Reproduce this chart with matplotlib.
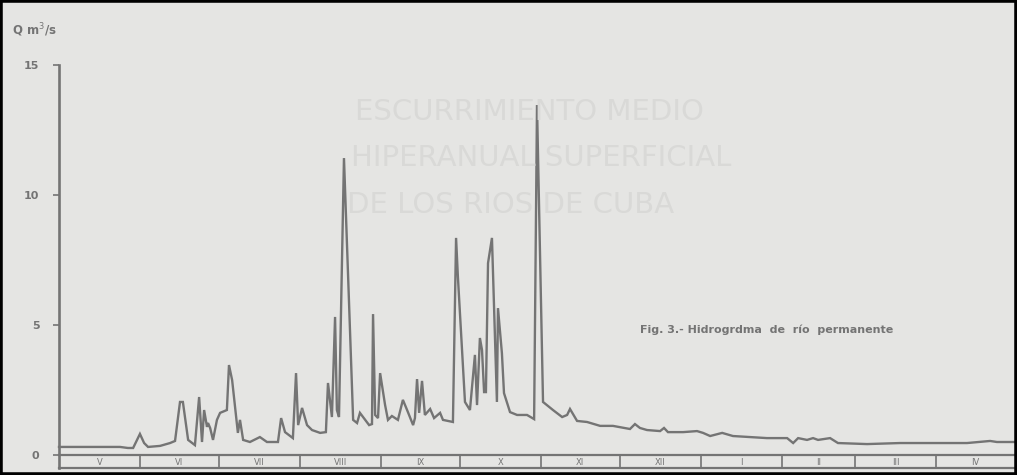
import matplotlib
matplotlib.use("Agg")
import matplotlib.pyplot as plt
from matplotlib.patches import Rectangle
from matplotlib import font_manager

# Days since 1 May (hydrological year May-April)
day = [0, 23.3, 26.3, 28.3, 29.8, 30.9, 32.5, 34.0, 38.6, 42.4, 44.3, 46.2, 47.3,
       49.3, 51.9, 53.5, 54.6, 55.4, 56.5, 56.9, 57.7, 58.8, 60.3, 61.5, 64.1,
       64.9, 66.1, 68.3, 69.1, 70.3, 72.9, 76.7, 79.4, 83.6, 84.8, 86.3, 89.3,
       90.5, 91.3, 92.8, 94.7, 96.6, 99.7, 101.9, 102.7, 104.2, 105.4, 106.1,
       106.9, 108.8, 112.3, 113.8, 114.9, 118.4, 119.5, 119.9, 120.7, 121.8,
       122.6, 124.5, 125.6, 127.1, 129.4, 131.3, 132.9, 135.2, 135.9, 136.7,
       137.5, 138.6, 139.7, 141.7, 143.2, 145.5, 146.6, 150.4, 151.6, 152.3,
       155.0, 156.9, 158.8, 159.6, 160.7, 161.5, 162.3, 163.0, 163.8, 165.3,
       167.2, 167.6, 169.1, 169.9, 172.2, 174.9, 178.7, 181.4, 182.5, 184.8,
       188.6, 192.1, 194.0, 195.1, 197.8, 201.6, 206.6, 211.5, 218.0, 219.9,
       221.8, 224.5, 229.5, 231.0, 232.5, 238.3, 243.6, 245.9, 248.6, 253.2,
       257.3, 263.8, 270.3, 278.0, 280.3, 282.2, 285.6, 287.9, 289.8, 294.4,
       297.4, 308.5, 321.1, 333.7, 346.7, 355.5, 358.1, 365.0]
q = [0.31, 0.31, 0.27, 0.27, 0.58, 0.81, 0.46, 0.31, 0.35, 0.46, 0.54, 2.04, 2.04,
     0.58, 0.38, 2.23, 0.50, 1.73, 1.08, 1.23, 1.04, 0.58, 1.35, 1.62, 1.73,
     3.46, 2.88, 0.85, 1.35, 0.58, 0.50, 0.69, 0.50, 0.50, 1.42, 0.88, 0.65,
     3.15, 1.15, 1.81, 1.15, 0.96, 0.85, 0.88, 2.77, 1.46, 5.31, 1.73,
     1.46, 11.42, 1.35, 1.23, 1.62, 1.15, 1.19, 5.42, 1.54, 1.42,
     3.15, 1.92, 1.35, 1.50, 1.35, 2.12, 1.73, 1.15, 1.42, 2.92,
     1.62, 2.85, 1.54, 1.77, 1.42, 1.62, 1.35, 1.27, 8.35, 6.85,
     2.04, 1.73, 3.85, 1.92, 4.50, 4.04, 2.42, 2.42, 7.38, 8.35,
     2.04, 5.65, 3.92, 2.38, 1.65, 1.54, 1.54, 1.38, 13.46, 2.04,
     1.73, 1.46, 1.54, 1.77, 1.31, 1.27, 1.12, 1.12, 1.00, 1.19,
     1.04, 0.96, 0.92, 1.04, 0.88, 0.88, 0.92, 0.85, 0.73, 0.85,
     0.73, 0.69, 0.65, 0.65, 0.46, 0.65, 0.58, 0.65, 0.58, 0.65,
     0.46, 0.42, 0.46, 0.46, 0.46, 0.54, 0.50, 0.50]

month_edges = [0, 31, 61, 92, 123, 153, 184, 214, 245, 276, 304, 335, 365]
month_labels = ["V", "VI", "VII", "VIII", "IX", "X", "XI", "XII", "I", "II", "III", "IV"]
y_ticks = [0, 5, 10, 15]
ghost_lines = ["ESCURRIMIENTO MEDIO", "HIPERANUAL SUPERFICIAL", "DE LOS RIOS DE CUBA"]

bg = "#e5e5e3"
ink = "#747474"
faint = "#d9d9d7"

names = {f.name for f in font_manager.fontManager.ttflist}
ghost_family = "Liberation Sans Narrow" if "Liberation Sans Narrow" in names else "DejaVu Sans"
ghost_size = 29 if ghost_family == "Liberation Sans Narrow" else 21

fig = plt.figure(figsize=(10.17, 4.75), dpi=100)
fig.patch.set_facecolor(bg)

# faint show-through text from the reverse page
for i, (txt, yc) in enumerate(zip(ghost_lines, [112, 158, 205])):
    fig.text(355 / 1017 - i * 0.004, 1 - yc / 475, txt, fontsize=ghost_size, color=faint,
             family=ghost_family, ha="left", va="center")

ax = fig.add_axes([59 / 1017, 20 / 475, 956 / 1017, 390 / 475])
ax.set_facecolor("none")
ax.set_xlim(0, 365)
ax.set_ylim(0, 15)
for s in ax.spines.values():
    s.set_visible(False)

ax.plot(day, q, color=ink, lw=1.7, solid_joinstyle="miter", clip_on=False)

# y axis line
ax.plot([0, 0], [-0.5, 15], color=ink, lw=1.9, clip_on=False)
ax.set_yticks(y_ticks)
ax.set_yticklabels([str(v) for v in y_ticks], fontsize=8, fontweight="bold", color=ink)
ax.tick_params(axis="y", length=4, width=1.2, color=ink, pad=10)
ax.set_xticks([])

# month band
ax.plot([0, 365], [0, 0], color=ink, lw=1.6, clip_on=False)
ax.plot([0, 365], [-0.5, -0.5], color=ink, lw=1.6, clip_on=False)
for e in month_edges[1:-1]:
    ax.plot([e, e], [-0.5, 0], color=ink, lw=1.2, clip_on=False)
for i, lab in enumerate(month_labels):
    xc = (month_edges[i] + month_edges[i + 1]) / 2
    ax.text(xc, -0.27, lab, fontsize=6, color=ink, ha="center", va="center",
            clip_on=False)

fig.text(12 / 1017, 1 - 30 / 475, "Q m$^{3}$/s", fontsize=8.5, fontweight="bold",
         color=ink, ha="left", va="center")

fig.text(640 / 1017, 1 - 330 / 475, "Fig. 3.- Hidrogrdma  de  río  permanente",
         fontsize=8, fontweight="bold", color=ink, ha="left", va="center")

# scan frame
fig.patches.append(Rectangle((0, 0), 1, 1, transform=fig.transFigure,
                             fill=False, edgecolor="black", lw=4))

fig.savefig("out.png", dpi=100, facecolor=bg)
